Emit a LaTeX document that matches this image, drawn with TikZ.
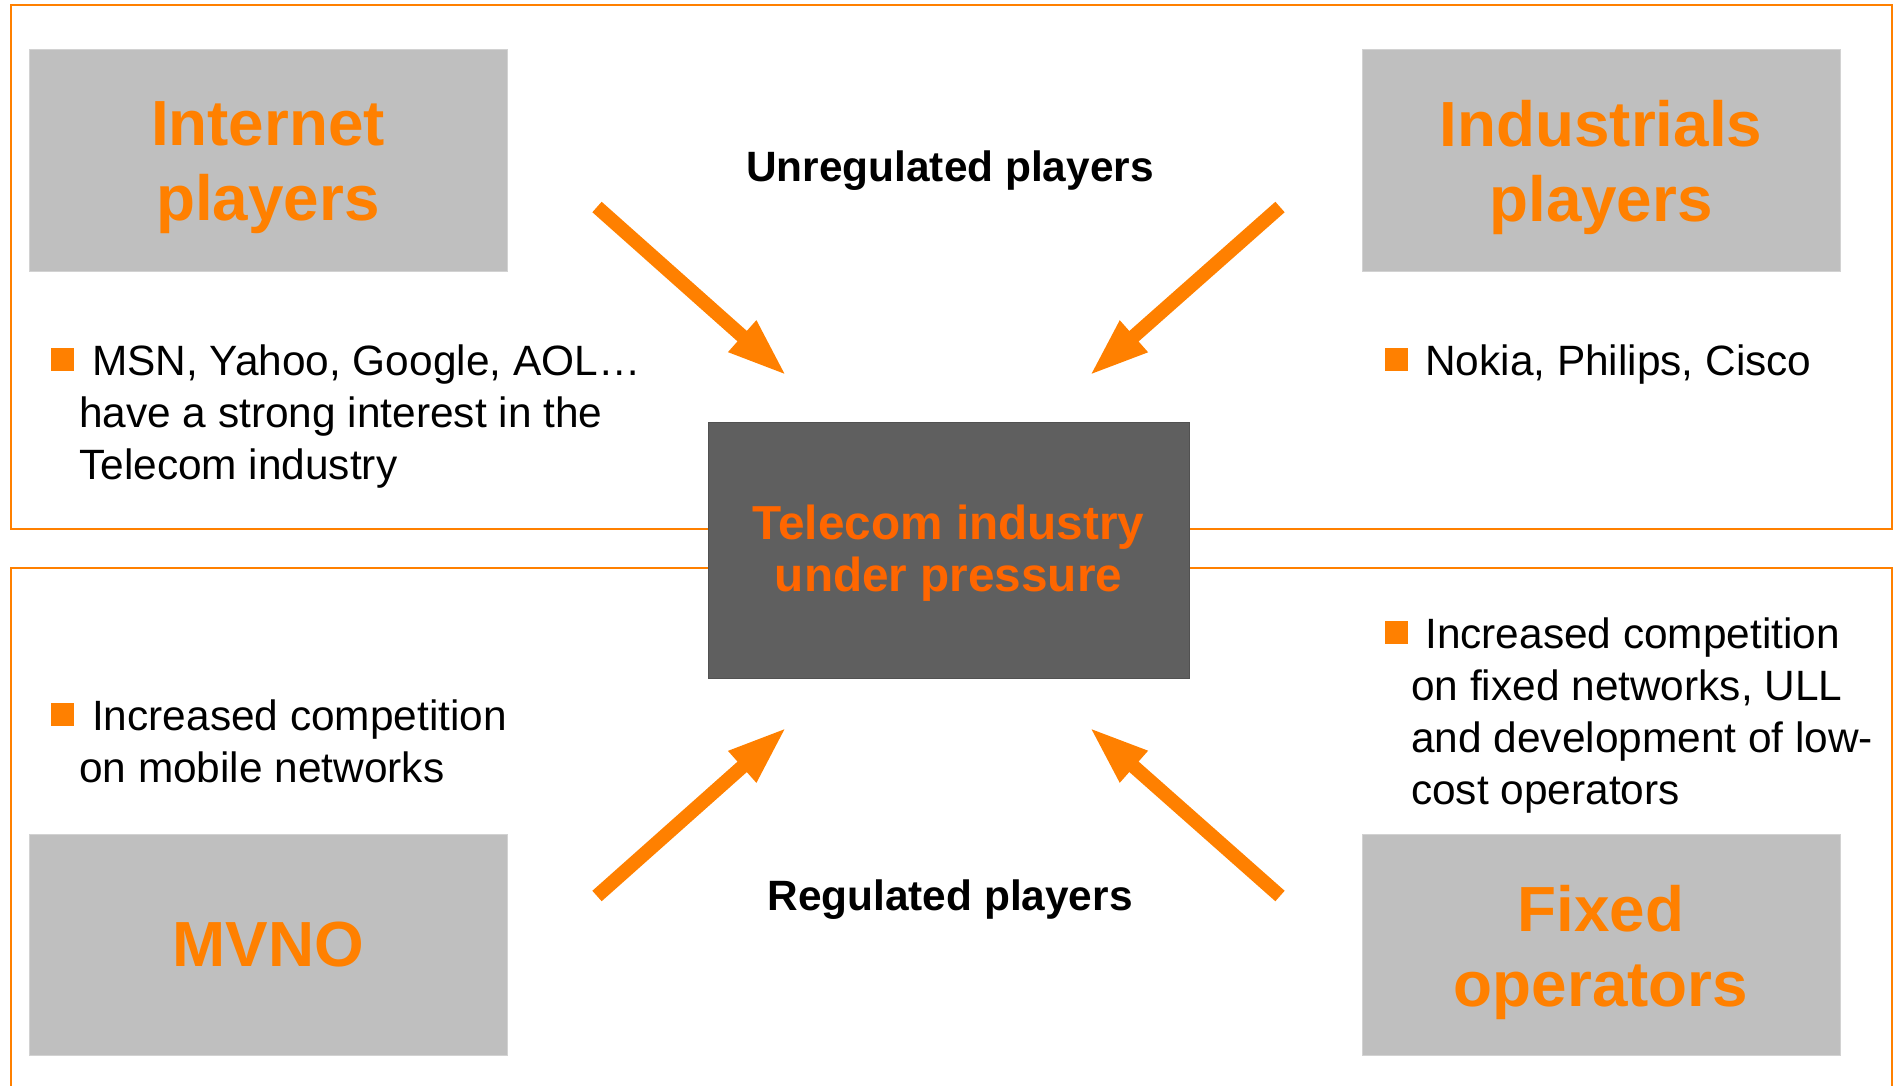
\documentclass[tikz,border=0pt]{standalone}
\usepackage{fontspec}
\setmainfont{Liberation Sans}
\usetikzlibrary{arrows.meta}
\definecolor{frameorange}{RGB}{255,128,0}
\definecolor{titleorange}{RGB}{255,128,0}
\definecolor{coreorange}{RGB}{255,102,0}
\definecolor{boxgrey}{RGB}{191,191,191}
\definecolor{coregrey}{RGB}{95,95,95}
\begin{document}
\begin{tikzpicture}[x=1pt,y=-1pt,
  frame/.style={draw=frameorange, line width=2pt},
  playerbox/.style={fill=boxgrey, draw=boxgrey!70!white, line width=1pt, minimum width=478pt, minimum height=221pt, inner sep=0pt},
  title/.style={text=titleorange, font=\fontsize{63.8}{75}\selectfont\bfseries, align=center, inner sep=0pt},
  corebox/.style={fill=coregrey, draw=coregrey!85!black, line width=1pt, minimum width=481pt, minimum height=256pt, inner sep=0pt},
  coretext/.style={text=coreorange, font=\fontsize{47.7}{52}\selectfont\bfseries, align=center, inner sep=0pt},
  caption/.style={font=\fontsize{42.4}{52}\selectfont\bfseries, inner sep=0pt},
  bodytext/.style={font=\fontsize{42.4}{52}\selectfont, align=left, anchor=base west, inner sep=0pt},
  bulletsq/.style={fill=frameorange, minimum size=23pt, inner sep=0pt},
  push/.style={draw=frameorange, line width=14pt, -{Triangle[length=60pt,width=38pt]}}
]
\useasboundingbox (0,0) rectangle (1898,1086);
\clip (0,0) rectangle (1898,1086);
% frames
\draw[frame] (11,5) rectangle (1892,529);
\draw[frame] (11,1100) -- (11,568) -- (1892,568) -- (1892,1100);
% player boxes
\node[playerbox] (internet) at (268,160.5) {};
\node[title] (internetT) at ([yshift=-7pt]internet.center) {Internet\\players};
\node[playerbox] (industrials) at (1601,160.5) {};
\node[title] (industrialsT) at ([yshift=-7pt]industrials.center) {Industrials\\players};
\node[playerbox] (mvno) at (268,945) {};
\node[title] (mvnoT) at (mvno.center) {MVNO};
\node[playerbox] (fixed) at (1601,945) {};
\node[title] (fixedT) at ([yshift=-7pt]fixed.center) {Fixed\\operators};
% core
\node[corebox] (core) at (948.5,550) {};
\node[coretext] (coreT) at ([yshift=-3pt]core.center) {Telecom industry\\under pressure};
% captions
\node[caption] (unreg) at (950,171) {Unregulated players};
\node[caption] (reg) at (950,900) {Regulated players};
% bullets and texts (anchor = baseline of the last line)
\node[bulletsq] (b1) at (62.5,359.5) {};
\node[bodytext] (t1) at (79,479) {\hspace*{13pt}MSN, Yahoo, Google, AOL…\\have a strong interest in the\\Telecom industry};
\node[bulletsq] (b2) at (1396,359.5) {};
\node[bodytext] (t2) at (1425,375) {Nokia, Philips, Cisco};
\node[bulletsq] (b3) at (62.5,714.5) {};
\node[bodytext] (t3) at (79,782) {\hspace*{13pt}Increased competition\\on mobile networks};
\node[bulletsq] (b4) at (1396,632.5) {};
\node[bodytext] (t4) at (1411,804) {\hspace*{14pt}Increased competition\\on fixed networks, ULL\\and development of low-\\cost operators};
% arrows
\coordinate (tlA) at (597,207);
\coordinate (tlB) at (787,376);
\coordinate (trA) at (1280,207);
\coordinate (trB) at (1089,376);
\coordinate (blA) at (597,896);
\coordinate (blB) at (787,727);
\coordinate (brA) at (1280,896);
\coordinate (brB) at (1089,727);
\draw[push] (tlA) -- (tlB);
\draw[push] (trA) -- (trB);
\draw[push] (blA) -- (blB);
\draw[push] (brA) -- (brB);
\end{tikzpicture}
\end{document}
